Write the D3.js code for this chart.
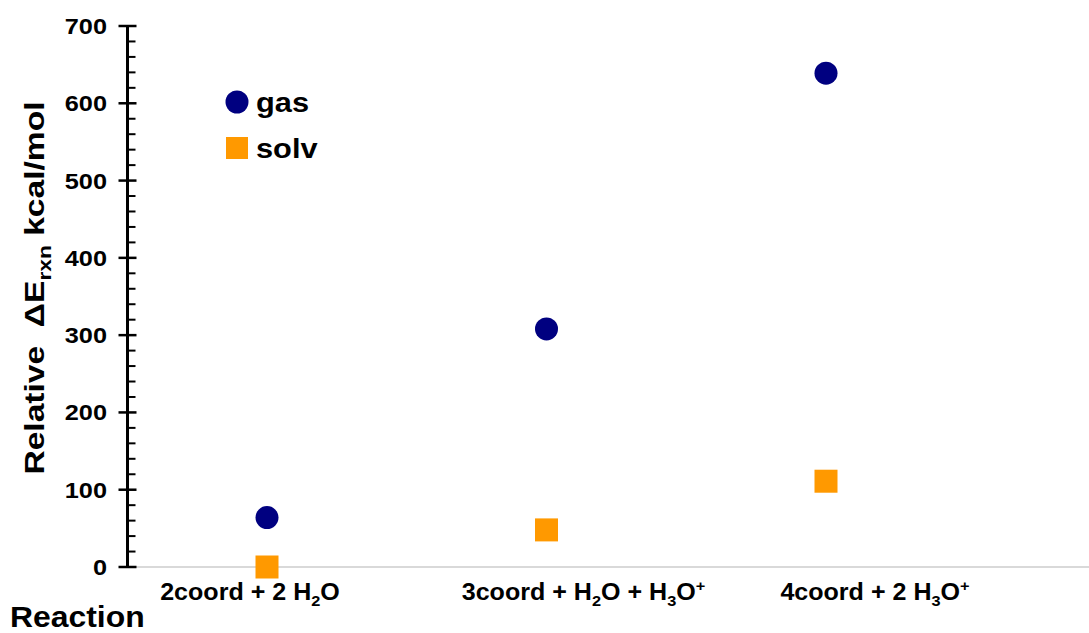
<!DOCTYPE html>
<html>
<head>
<meta charset="utf-8">
<script src="https://cdn.jsdelivr.net/npm/d3@7"></script>
<style>
  html, body { margin: 0; padding: 0; background: #fff; }
  svg { display: block; font-family: "Liberation Sans", Arial, sans-serif; font-weight: bold; }
</style>
</head>
<body>
<svg id="chart" width="1089" height="633"></svg>
<script>
// Reaction categories (label pieces: [text, baseline-shift])
const categories = ["2coord", "3coord", "4coord"];
const categoryLabels = [
  [["2coord + 2 H", ""], ["2", "sub"], ["O", ""]],
  [["3coord + H", ""], ["2", "sub"], ["O + H", ""], ["3", "sub"], ["O", ""], ["+", "sup"]],
  [["4coord + 2 H", ""], ["3", "sub"], ["O", ""], ["+", "sup"]]
];
// Relative reaction energies, kcal/mol
const gasValues = [64, 308, 639];
const solvValues = [0, 48, 111];
const yTicks = [0, 100, 200, 300, 400, 500, 600, 700];

const svg = d3.select("#chart");
const W = 1089;
const axisX = 127.5, plotTop = 26, plotBottom = 567;

const x = d3.scalePoint().domain(categories).range([267, 826]);
const y = d3.scaleLinear().domain([0, 700]).range([plotBottom, plotTop]);

// text placed in a group so it can be widened slightly along its run
function label(parent, tx, ty, size, sx, rot = 0) {
  return parent.append("g")
    .attr("transform", `translate(${tx},${ty}) rotate(${rot}) scale(${sx},1)`)
    .append("text")
    .attr("font-size", size);
}

// light baseline at zero
svg.append("line")
  .attr("x1", axisX).attr("x2", W)
  .attr("y1", y(0)).attr("y2", y(0))
  .attr("stroke", "#d9d9d9").attr("stroke-width", 2);

// y axis: major ticks both sides, minor ticks inward
const minor = d3.range(0, 701, 20).filter(v => v % 100 !== 0);
svg.append("g").selectAll("line").data(minor).join("line")
  .attr("x1", axisX).attr("x2", axisX + 8)
  .attr("y1", d => y(d)).attr("y2", d => y(d))
  .attr("stroke", "#000").attr("stroke-width", 2);
svg.append("g").selectAll("line").data(yTicks).join("line")
  .attr("x1", axisX - 9).attr("x2", axisX + 9)
  .attr("y1", d => y(d)).attr("y2", d => y(d))
  .attr("stroke", "#000").attr("stroke-width", 2.5);
svg.append("line")
  .attr("x1", axisX).attr("x2", axisX)
  .attr("y1", plotTop - 1).attr("y2", plotBottom + 1)
  .attr("stroke", "#000").attr("stroke-width", 3);

const tickG = svg.append("g");
yTicks.forEach(v => {
  label(tickG, 107, y(v), 22, 1.15)
    .attr("dy", "0.36em")
    .attr("text-anchor", "end")
    .text(v);
});

// y axis title
const yTitle = label(svg, 44, 288, 28, 1.2, -90).attr("text-anchor", "middle");
yTitle.append("tspan").text("Relative\u00a0\u00a0\u0394E");
yTitle.append("tspan").attr("font-size", 19).attr("dy", 7).text("rxn");
yTitle.append("tspan").attr("dy", -7).text(" kcal/mol");

// x axis title
label(svg, 10, 627, 29, 1.1).text("Reaction");

// category labels
const labelShift = [-17, 37, 49];
const catG = svg.append("g");
categories.forEach((c, i) => {
  const t = label(catG, x(c) + labelShift[i], 600, 23, 1.09).attr("text-anchor", "middle");
  let cur = 0;
  categoryLabels[i].forEach(([txt, kind]) => {
    const target = kind === "sub" ? 6 : kind === "sup" ? -9 : 0;
    const s = t.append("tspan").attr("dy", target - cur).text(txt);
    if (kind) s.attr("font-size", 15);
    cur = target;
  });
});

// series markers
svg.append("g").selectAll("circle").data(categories).join("circle")
  .attr("cx", d => x(d))
  .attr("cy", (d, i) => y(gasValues[i]))
  .attr("r", 11.5)
  .attr("fill", "#000080");

const sq = 23;
svg.append("g").selectAll("rect").data(categories).join("rect")
  .attr("x", d => x(d) - sq / 2)
  .attr("y", (d, i) => y(solvValues[i]) - sq / 2)
  .attr("width", sq).attr("height", sq)
  .attr("fill", "#ff9900");

// legend
const legend = svg.append("g");
legend.append("circle").attr("cx", 237).attr("cy", 102).attr("r", 11.5).attr("fill", "#000080");
label(legend, 256, 112, 27, 1.14).text("gas");
legend.append("rect").attr("x", 226).attr("y", 137).attr("width", 22).attr("height", 22).attr("fill", "#ff9900");
label(legend, 256, 158, 27, 1.14).text("solv");
</script>
</body>
</html>
